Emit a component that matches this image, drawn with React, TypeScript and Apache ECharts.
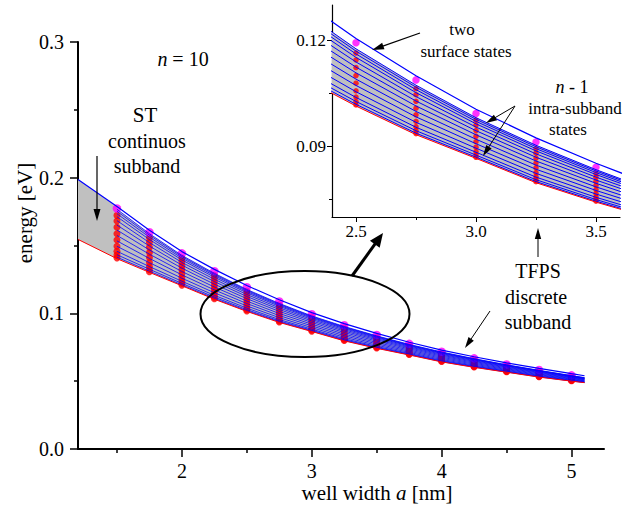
import React, { useEffect, useRef } from "react";
import * as echarts from "echarts";

// ---------- data ----------
// discrete states (dots) at these well widths
const dotA = [1.5, 1.75, 2.0, 2.25, 2.5, 2.75, 3.0, 3.25, 3.5, 3.75, 4.0, 4.25, 4.5, 4.75, 5.0];
// magenta: surface state
const surfaceDots = [0.1773, 0.1598, 0.1442, 0.1311, 0.1193, 0.1088, 0.0993, 0.0912, 0.0841, 0.0775, 0.0717, 0.0668, 0.0623, 0.0582, 0.0543];
// red: first and last intra-subband state
const dotTop = [0.1722, 0.1557, 0.1407, 0.128, 0.1164, 0.1063, 0.0974, 0.0893, 0.0823, 0.076, 0.0703, 0.0655, 0.0611, 0.0571, 0.0532];
const dotBottom = [0.1409, 0.1307, 0.1208, 0.1108, 0.1017, 0.0936, 0.0869, 0.08, 0.0745, 0.0696, 0.0645, 0.0605, 0.0569, 0.0533, 0.0503];
// relative position of the 9 red dots between first and last
const levelFrac = [0, 0.133, 0.28, 0.433, 0.58, 0.727, 0.847, 0.933, 1];

// continuous curves
const curveA = [1.2, 1.5, 1.75, 2.0, 2.25, 2.5, 2.75, 3.0, 3.25, 3.5, 3.75, 4.0, 4.25, 4.5, 4.75, 5.0, 5.1];
const upperCurve = [0.1987, 0.1787, 0.1612, 0.1455, 0.1324, 0.1205, 0.11, 0.1005, 0.0924, 0.0852, 0.0787, 0.0729, 0.068, 0.0635, 0.0594, 0.0555, 0.054];
const lowerCurve = [0.1545, 0.1403, 0.1302, 0.1203, 0.1104, 0.1014, 0.0933, 0.0866, 0.0797, 0.0742, 0.0693, 0.0642, 0.0602, 0.0566, 0.053, 0.05, 0.0489];
// top of the discrete subband (from a = 1.5 to 5.1)
const bundleA = [1.5, 1.75, 2.0, 2.25, 2.5, 2.75, 3.0, 3.25, 3.5, 3.75, 4.0, 4.25, 4.5, 4.75, 5.0, 5.1];
const bundleTop = [0.1767, 0.1587, 0.1427, 0.1295, 0.1176, 0.1073, 0.0981, 0.0903, 0.0834, 0.0771, 0.0715, 0.0666, 0.0621, 0.058, 0.0541, 0.0526];
// relative position of the blue subband lines between its top and the red line
const bundleFrac = [0, 0.04, 0.09, 0.15, 0.23, 0.32, 0.42, 0.53, 0.64, 0.75, 0.85, 0.92, 0.97];

// axis ticks
const mainXTicks = [2, 3, 4, 5];
const mainXMinor = [1.5, 2.5, 3.5, 4.5];
const insetXTicks = [2.5, 3.0, 3.5];
const insetXMinor = [2.75, 3.25];
const insetYTicks = [0.09, 0.12];
const insetYMinor = [0.075, 0.105];

const FONT = "Liberation Serif";
const BLUE = "#0000ff";
const RED = "#ff0000";
const MAGENTA = "#ff00ff";

function polygonData(): number[][] {
  const pts: number[][] = [];
  pts.push([curveA[0], upperCurve[0]]);
  pts.push([curveA[1], upperCurve[1]]);
  bundleA.forEach((a, i) => pts.push([a, bundleTop[i]]));
  for (let i = curveA.length - 1; i >= 0; i--) pts.push([curveA[i], lowerCurve[i]]);
  return pts;
}

function seriesFor(xi: number, yi: number, redSize: number, magSize: number, lw: number) {
  const list: any[] = [];
  const poly = polygonData();
  list.push({
    type: "custom",
    xAxisIndex: xi,
    yAxisIndex: yi,
    clip: true,
    silent: true,
    data: [[curveA[0], upperCurve[0]]],
    renderItem: (_p: any, api: any) => ({
      type: "polygon",
      shape: { points: poly.map((p) => api.coord(p)) },
      style: { fill: "#c0c0c0", stroke: "none" },
    }),
  });
  bundleFrac.forEach((f) => {
    list.push({
      type: "line",
      xAxisIndex: xi,
      yAxisIndex: yi,
      silent: true,
      symbol: "none",
      showSymbol: false,
      lineStyle: { color: BLUE, width: lw },
      data: bundleA.map((a, i) => [a, bundleTop[i] + f * (lowerCurve[i + 1] - bundleTop[i])]),
    });
  });
  list.push({
    type: "line",
    xAxisIndex: xi,
    yAxisIndex: yi,
    silent: true,
    symbol: "none",
    lineStyle: { color: BLUE, width: 1.2 },
    data: curveA.map((a, i) => [a, upperCurve[i]]),
  });
  list.push({
    type: "line",
    xAxisIndex: xi,
    yAxisIndex: yi,
    silent: true,
    symbol: "none",
    lineStyle: { color: RED, width: 1 },
    data: curveA.map((a, i) => [a, lowerCurve[i]]),
  });
  list.push({
    type: "scatter",
    xAxisIndex: xi,
    yAxisIndex: yi,
    silent: true,
    symbolSize: redSize,
    itemStyle: { color: RED },
    data: dotA.flatMap((a, i) => levelFrac.map((f) => [a, dotTop[i] + f * (dotBottom[i] - dotTop[i])])),
  });
  list.push({
    type: "scatter",
    xAxisIndex: xi,
    yAxisIndex: yi,
    silent: true,
    symbolSize: magSize,
    itemStyle: { color: MAGENTA },
    data: dotA.map((a, i) => [a, surfaceDots[i]]),
  });
  return list;
}

function arrow(x1: number, y1: number, x2: number, y2: number, lw = 1, headLen = 11, headW = 3.5) {
  const dx = x2 - x1;
  const dy = y2 - y1;
  const L = Math.hypot(dx, dy);
  const ux = dx / L;
  const uy = dy / L;
  const bx = x2 - ux * headLen;
  const by = y2 - uy * headLen;
  const px = -uy;
  const py = ux;
  return [
    { type: "line", z: 100, shape: { x1, y1, x2: bx + ux * 2, y2: by + uy * 2 }, style: { stroke: "#000", lineWidth: lw } },
    {
      type: "polygon",
      z: 100,
      shape: { points: [[x2, y2], [bx + px * headW, by + py * headW], [bx - px * headW, by - py * headW]] },
      style: { fill: "#000" },
    },
  ];
}

function label(text: string, x: number, y: number, size: number, extra: any = {}) {
  return {
    type: "text",
    z: 100,
    x,
    y,
    ...extra,
    style: {
      text,
      fontFamily: FONT,
      fontSize: size,
      fill: "#000",
      align: "center",
      verticalAlign: "middle",
      rich: { i: { fontStyle: "italic", fontFamily: FONT, fontSize: size, fill: "#000" } },
    },
  };
}

function buildOption(): any {
  const axisLine = (w: number) => ({ show: true, onZero: false, lineStyle: { color: "#000", width: w } });
  const labelStyle = (size: number, margin: number, fmt?: (v: number) => string, custom?: number[]) => ({
    show: true,
    color: "#000",
    fontFamily: FONT,
    fontSize: size,
    margin,
    ...(fmt ? { formatter: fmt } : {}),
    ...(custom ? { customValues: custom } : {}),
  });
  return {
    animation: false,
    backgroundColor: "#fff",
    textStyle: { fontFamily: FONT },
    grid: [
      { left: 78, top: 42, width: 526, height: 407 },
      { left: 332, top: 5, width: 288, height: 212 },
    ],
    xAxis: [
      {
        type: "value",
        gridIndex: 0,
        min: 1.2,
        max: 5.25,
        position: "bottom",
        axisLine: axisLine(2),
        axisTick: { show: true, length: 8, customValues: mainXTicks, lineStyle: { color: "#000", width: 1.5 } },
        axisLabel: labelStyle(20, 12, (v: number) => String(v), mainXTicks),
        splitLine: { show: false },
      },
      {
        type: "value",
        gridIndex: 0,
        min: 1.2,
        max: 5.25,
        position: "bottom",
        axisLine: { show: false, onZero: false },
        axisTick: { show: true, length: 4, customValues: mainXMinor, lineStyle: { color: "#000", width: 1.5 } },
        axisLabel: { show: false },
        splitLine: { show: false },
      },
      {
        type: "value",
        gridIndex: 1,
        min: 2.4,
        max: 3.6,
        position: "bottom",
        axisLine: axisLine(1.2),
        axisTick: { show: true, length: 5, customValues: insetXTicks, lineStyle: { color: "#000", width: 1 } },
        axisLabel: labelStyle(17, 6, (v: number) => v.toFixed(1), insetXTicks),
        splitLine: { show: false },
      },
      {
        type: "value",
        gridIndex: 1,
        min: 2.4,
        max: 3.6,
        position: "bottom",
        axisLine: { show: false, onZero: false },
        axisTick: { show: true, length: 3, customValues: insetXMinor, lineStyle: { color: "#000", width: 1 } },
        axisLabel: { show: false },
        splitLine: { show: false },
      },
    ],
    yAxis: [
      {
        type: "value",
        gridIndex: 0,
        min: 0,
        max: 0.3,
        interval: 0.1,
        position: "left",
        axisLine: axisLine(2),
        axisTick: { show: true, length: 8, lineStyle: { color: "#000", width: 1.5 } },
        minorTick: { show: true, splitNumber: 2, length: 4, lineStyle: { color: "#000", width: 1.5 } },
        axisLabel: labelStyle(20, 14, (v: number) => v.toFixed(1)),
        splitLine: { show: false },
        minorSplitLine: { show: false },
      },
      {
        type: "value",
        gridIndex: 1,
        min: 0.07,
        max: 0.13,
        position: "left",
        axisLine: axisLine(1.2),
        axisTick: { show: true, length: 5, customValues: insetYTicks, lineStyle: { color: "#000", width: 1 } },
        axisLabel: labelStyle(17, 6, (v: number) => v.toFixed(2), insetYTicks),
        splitLine: { show: false },
      },
      {
        type: "value",
        gridIndex: 1,
        min: 0.07,
        max: 0.13,
        position: "left",
        axisLine: { show: false, onZero: false },
        axisTick: { show: true, length: 3, customValues: insetYMinor, lineStyle: { color: "#000", width: 1 } },
        axisLabel: { show: false },
        splitLine: { show: false },
      },
    ],
    series: [...seriesFor(0, 0, 7, 8.5, 0.8), ...seriesFor(2, 1, 5.5, 7.5, 1)],
    graphic: [
      // axis titles
      label("well width {i|a} [nm]", 377, 493, 21),
      label("energy [eV]", 25, 213, 21, { rotation: Math.PI / 2 }),
      // annotations
      label("{i|n} = 10", 183, 59, 20),
      label("ST", 145, 115, 21),
      label("continuos", 147, 141, 20),
      label("subband", 147, 166, 20),
      label("two", 462, 29, 17),
      label("surface states", 466, 51, 17),
      label("{i|n} - 1", 572, 87, 18),
      label("intra-subband", 575, 108, 17),
      label("states", 568, 129, 17),
      label("TFPS", 538, 271, 20),
      label("discrete", 536, 297, 20),
      label("subband", 538, 322, 20),
      {
        type: "ellipse",
        z: 100,
        shape: { cx: 305, cy: 314, rx: 104.5, ry: 43 },
        style: { fill: "none", stroke: "#000", lineWidth: 2 },
      },
      ...arrow(97, 156, 97, 221, 1.2, 12, 3.5),
      ...arrow(420, 33, 372, 50, 1.2, 12, 3.5),
      ...arrow(515, 106, 486, 123, 1, 11, 3.2),
      ...arrow(515, 106, 483, 156, 1, 11, 3.2),
      ...arrow(538, 257, 538, 228, 1, 11, 3.2),
      ...arrow(490, 311, 465, 348, 1, 11, 3.2),
      ...arrow(352, 276, 383, 233, 3, 14, 6),
    ],
  };
}

export default function App() {
  const ref = useRef<HTMLDivElement>(null);
  useEffect(() => {
    if (!ref.current) return;
    const chart = echarts.init(ref.current, null, { renderer: "svg" });
    chart.setOption(buildOption());
    return () => chart.dispose();
  }, []);
  return (
    <div
      ref={ref}
      style={{ position: "fixed", left: 0, top: 0, width: 642, height: 508, background: "#fff" }}
    />
  );
}
